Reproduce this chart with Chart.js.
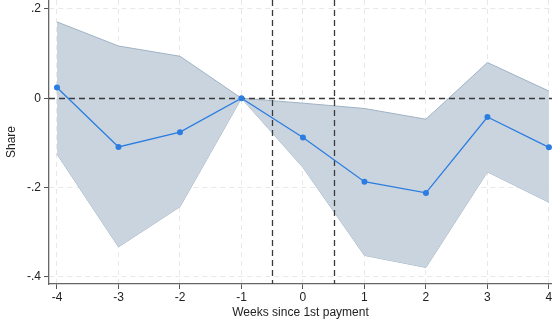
<!DOCTYPE html>
<html>
<head>
<meta charset="utf-8">
<script src="https://cdn.jsdelivr.net/npm/chart.js@4.4.1/dist/chart.umd.min.js"></script>
<style>
  html, body { margin: 0; padding: 0; background: #fff; }
  #wrap { width: 552px; height: 326px; position: relative; }
</style>
</head>
<body>
<div id="wrap"><canvas id="chart-1"></canvas></div>
<script>
// weeks relative to first payment
const weeks = [-4, -3, -2, -1, 0, 1, 2, 3, 4];
const estimate = [0.024, -0.109, -0.076, 0, -0.088, -0.187, -0.212, -0.042, -0.110];
const ciUpper = [0.171, 0.117, 0.094, 0, -0.011, -0.023, -0.047, 0.080, 0.016];
const ciLower = [-0.125, -0.333, -0.243, 0, -0.155, -0.352, -0.379, -0.165, -0.233];
const xTicks = [-4, -3, -2, -1, 0, 1, 2, 3, 4];
const yTicks = [-0.4, -0.2, 0, 0.2];
const eventLines = [-0.5, 0.5];

const toPoints = (ys) => weeks.map((w, i) => ({ x: w, y: ys[i] }));

const fmtY = (v) => {
  if (Math.abs(v) < 1e-9) return "0";
  return v.toFixed(1).replace("0.", ".");
};

// dashed reference lines, drawn above the band but under the estimate line
const refLines = {
  id: "refLines",
  beforeDatasetDraw(chart, args) {
    if (args.index !== 0) return;
    const { ctx, chartArea: a, scales } = chart;
    ctx.save();
    ctx.strokeStyle = "#3a3a3a";
    ctx.lineWidth = 1.3;
    ctx.setLineDash([6, 4]);
    eventLines.forEach((v) => {
      const px = Math.round(scales.x.getPixelForValue(v)) + 0.5;
      ctx.beginPath();
      ctx.moveTo(px, a.top);
      ctx.lineTo(px, a.bottom);
      ctx.stroke();
    });
    const py = Math.round(scales.y.getPixelForValue(0)) + 0.5;
    ctx.beginPath();
    ctx.moveTo(a.left, py);
    ctx.lineTo(a.right, py);
    ctx.stroke();
    ctx.restore();
  },
};

const font = { family: "'Liberation Sans', Arial, sans-serif", size: 12 };

const ctx1 = document.getElementById("chart-1").getContext("2d");
const myChart = new Chart(ctx1, {
  type: "line",
  data: {
    datasets: [
      {
        label: "Estimate",
        data: toPoints(estimate),
        borderColor: "#2b7de0",
        backgroundColor: "#2b7de0",
        borderWidth: 1.3,
        pointRadius: 3,
        pointBorderWidth: 0,
        fill: false,
        clip: false,
      },
      {
        label: "Upper",
        data: toPoints(ciUpper),
        borderColor: "#9fb2c4",
        borderWidth: 1,
        pointRadius: 0,
        backgroundColor: "#c9d4df",
        fill: "+1",
      },
      {
        label: "Lower",
        data: toPoints(ciLower),
        borderColor: "#9fb2c4",
        borderWidth: 1,
        pointRadius: 0,
        fill: false,
      },
    ],
  },
  options: {
    responsive: true,
    maintainAspectRatio: false,
    animation: false,
    layout: { padding: 0, autoPadding: false },
    plugins: {
      legend: { display: false },
      tooltip: { enabled: false },
    },
    scales: {
      x: {
        type: "linear",
        min: -4.13,
        max: 4.05,
        afterBuildTicks: (s) => { s.ticks = xTicks.map((v) => ({ value: v })); },
        afterFit: (s) => { s.height = 42; s.paddingLeft = 0; s.paddingRight = 0; },
        ticks: { color: "#222", font, padding: 1, maxRotation: 0, autoSkip: false },
        grid: { color: "#e8e8e8", tickColor: "#555", tickLength: 5, lineWidth: 1 },
        border: { display: true, color: "#666", width: 1.3, dash: [5, 4] },
        title: {
          display: true,
          text: "Weeks since 1st payment",
          color: "#222",
          font,
          padding: { top: 2, bottom: 6 },
        },
      },
      y: {
        min: -0.416,
        max: 0.22,
        afterBuildTicks: (s) => { s.ticks = yTicks.map((v) => ({ value: v })); },
        afterFit: (s) => { s.width = 49; s.paddingTop = 0; s.paddingBottom = 0; },
        ticks: { color: "#222", font, padding: 3, callback: (v) => fmtY(v) },
        grid: { color: "#e8e8e8", tickColor: "#555", tickLength: 5, lineWidth: 1 },
        border: { display: true, color: "#666", width: 1.3, dash: [5, 4] },
        title: {
          display: true,
          text: "Share",
          color: "#222",
          font,
          padding: { top: 4, bottom: 4 },
        },
      },
    },
  },
  plugins: [refLines],
});
</script>
</body>
</html>
